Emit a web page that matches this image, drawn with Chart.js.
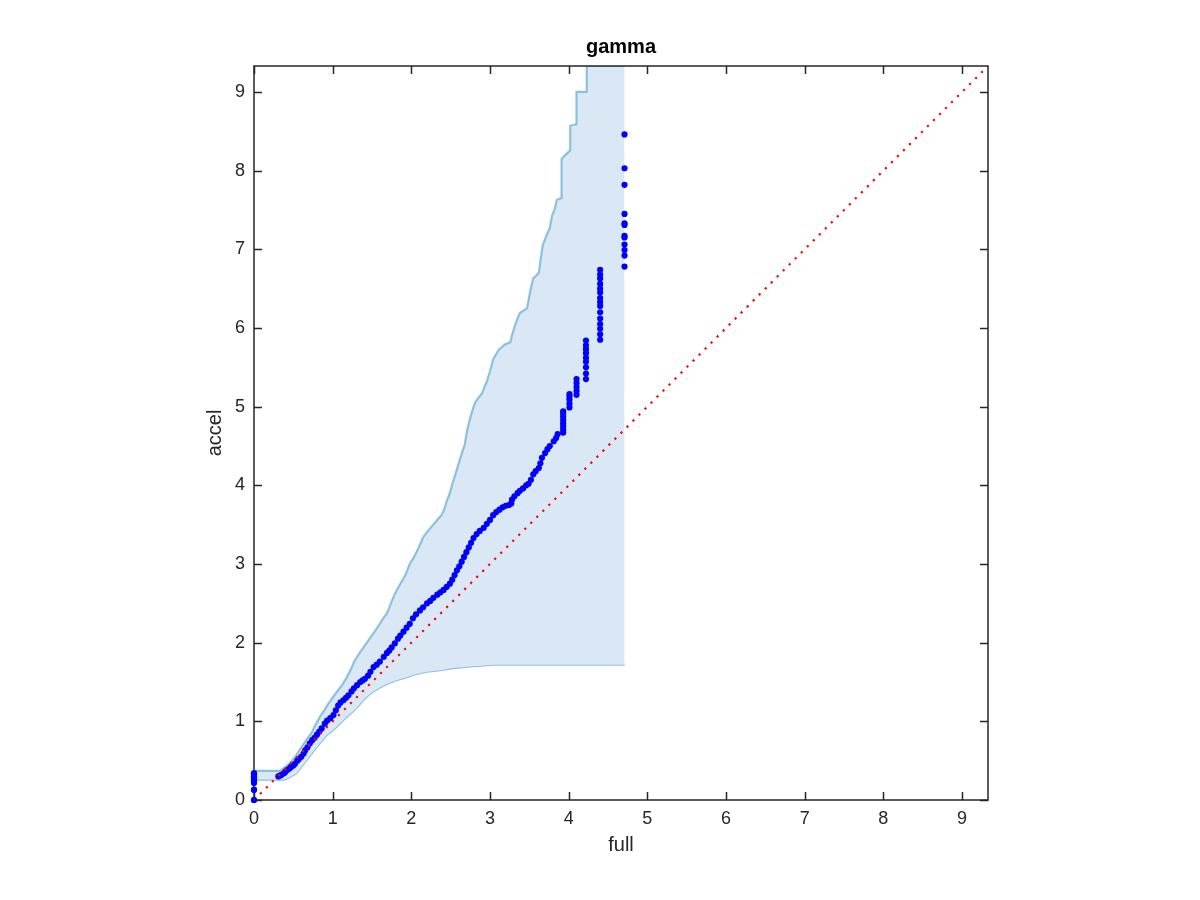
<!DOCTYPE html>
<html>
<head>
<meta charset="utf-8">
<script src="https://cdn.jsdelivr.net/npm/chart.js@4.4.1/dist/chart.umd.min.js"></script>
<style>
html,body{margin:0;padding:0;background:#fff;}
canvas{display:block;}
</style>
</head>
<body>
<canvas id="c" width="1200" height="900"></canvas>
<script>
// ---- data ----
const axisMin = 0;
const axisMax = 9.33;
const xTicks = [0,1,2,3,4,5,6,7,8,9];
const yTicks = [0,1,2,3,4,5,6,7,8,9];

// upper envelope of the confidence band
const bandUpperX = [0,0.33,0.40,0.46,0.53,0.61,0.67,0.73,0.78,0.84,0.90,0.95,1.00,1.05,1.12,1.18,1.23,1.28,1.35,1.43,1.49,1.54,1.60,1.65,1.69,1.74,1.79,1.85,1.92,1.98,2.03,2.09,2.15,2.22,2.28,2.33,2.39,2.42,2.45,2.49,2.52,2.56,2.60,2.64,2.68,2.71,2.75,2.78,2.81,2.86,2.90,2.93,2.96,3.00,3.04,3.08,3.11,3.19,3.26,3.28,3.32,3.35,3.38,3.47,3.49,3.51,3.55,3.62,3.64,3.67,3.72,3.76,3.79,3.82,3.85,3.91,3.91,3.96,4.02,4.02,4.10,4.10,4.23,4.23,4.71];
const bandUpperY = [0.37,0.37,0.42,0.47,0.56,0.68,0.77,0.85,0.95,1.06,1.15,1.23,1.30,1.37,1.46,1.56,1.66,1.77,1.88,1.99,2.08,2.15,2.24,2.32,2.37,2.50,2.62,2.73,2.85,3.00,3.08,3.20,3.34,3.43,3.50,3.56,3.63,3.70,3.80,3.90,4.01,4.14,4.27,4.40,4.52,4.70,4.86,4.96,5.05,5.12,5.17,5.25,5.32,5.45,5.60,5.67,5.72,5.79,5.82,5.91,6.04,6.12,6.19,6.25,6.35,6.46,6.63,6.70,6.84,7.05,7.18,7.27,7.43,7.50,7.63,7.65,8.15,8.20,8.26,8.57,8.59,9.00,9.00,9.33,9.33];

// lower envelope of the confidence band
const bandLowerX = [0,0.39,0.45,0.54,0.60,0.67,0.74,0.80,0.86,0.92,0.98,1.05,1.12,1.18,1.25,1.31,1.37,1.43,1.50,1.60,1.70,1.80,1.94,2.05,2.20,2.37,2.55,2.79,3.04,4.71];
const bandLowerY = [0.26,0.26,0.29,0.34,0.42,0.51,0.60,0.68,0.75,0.82,0.87,0.93,1.00,1.06,1.12,1.18,1.25,1.31,1.37,1.43,1.48,1.52,1.56,1.60,1.63,1.65,1.68,1.70,1.72,1.72];

// quantile-quantile points (full vs accel)
const qqX = [0,0,0,0,0,0,0,0,0,
0.31,0.33,0.35,0.38,0.40,0.42,0.45,0.47,0.50,0.52,0.55,0.57,0.60,0.63,0.65,0.68,0.71,0.74,0.77,0.80,0.83,0.86,0.90,0.93,0.97,1.01,1.04,1.07,1.10,1.14,1.17,1.20,1.24,1.27,1.31,1.35,1.38,1.41,1.45,1.48,1.52,1.56,1.60,1.65,1.69,1.72,1.75,1.79,1.83,1.86,1.90,1.94,1.98,2.02,2.06,2.11,2.15,2.20,2.24,2.28,2.33,2.37,2.41,2.45,2.49,2.52,2.55,2.58,2.61,2.64,2.67,2.70,2.73,2.76,2.79,2.83,2.87,2.92,2.96,3.00,3.04,3.08,3.12,3.16,3.20,3.24,3.27,3.28,3.31,3.35,3.38,3.42,3.46,3.49,3.52,3.55,3.58,3.62,3.64,3.66,3.70,3.73,3.76,3.81,3.84,3.86,
3.93,3.93,3.93,3.93,3.93,3.93,3.93,3.93,
4.01,4.01,4.01,4.01,4.01,
4.10,4.10,4.10,4.10,4.10,
4.22,4.22,4.22,4.22,4.22,4.22,4.22,4.22,4.22,
4.40,4.40,4.40,4.40,4.40,4.40,4.40,4.40,4.40,4.40,4.40,4.40,4.40,4.40,4.40,
4.71,4.71,4.71,4.71,4.71,4.71,4.71,4.71,4.71,4.71,4.71,4.71];
const qqY = [0,0.13,0.22,0.24,0.26,0.28,0.30,0.32,0.34,
0.30,0.31,0.32,0.34,0.36,0.38,0.40,0.42,0.44,0.46,0.50,0.52,0.55,0.59,0.63,0.67,0.72,0.76,0.79,0.83,0.87,0.91,0.97,1.01,1.04,1.08,1.14,1.20,1.24,1.27,1.30,1.33,1.38,1.42,1.46,1.50,1.52,1.54,1.58,1.63,1.69,1.72,1.76,1.82,1.87,1.90,1.94,1.99,2.05,2.09,2.14,2.19,2.24,2.31,2.36,2.41,2.45,2.50,2.53,2.57,2.61,2.64,2.67,2.71,2.75,2.80,2.86,2.92,2.97,3.03,3.09,3.15,3.21,3.27,3.33,3.38,3.42,3.46,3.51,3.56,3.62,3.66,3.69,3.72,3.74,3.75,3.77,3.82,3.86,3.90,3.93,3.96,4.00,4.02,4.07,4.14,4.18,4.22,4.28,4.35,4.41,4.46,4.50,4.56,4.60,4.65,
4.67,4.71,4.75,4.79,4.83,4.87,4.91,4.94,
4.99,5.04,5.09,5.13,5.16,
5.15,5.20,5.25,5.30,5.35,
5.35,5.42,5.50,5.57,5.62,5.68,5.73,5.78,5.84,
5.85,5.92,5.99,6.05,6.12,6.20,6.28,6.33,6.38,6.45,6.50,6.56,6.63,6.68,6.74,
6.78,6.92,6.99,7.06,7.15,7.17,7.31,7.33,7.45,7.82,8.03,8.46];

// reference diagonal y = x
const diagX = [0, 9.33];
const diagY = [0, 9.33];

// ---- build chart ----
const pts = (xs, ys) => xs.map((x, i) => ({x: x, y: ys[i]}));
const FONT = "'Liberation Sans', Arial, Helvetica, sans-serif";
const AXIS_COLOR = '#262626';

const boxTicks = {
  id: 'boxTicks',
  afterDatasetsDraw(chart) {
    const {ctx, chartArea: a, scales: {x, y}} = chart;
    const L = 8;
    ctx.save();
    ctx.strokeStyle = AXIS_COLOR;
    ctx.lineWidth = 1.5;
    ctx.beginPath();
    xTicks.forEach(v => {
      const px = Math.round(x.getPixelForValue(v)) + 0.5;
      ctx.moveTo(px, a.bottom); ctx.lineTo(px, a.bottom - L);
      ctx.moveTo(px, a.top); ctx.lineTo(px, a.top + L);
    });
    yTicks.forEach(v => {
      const py = Math.round(y.getPixelForValue(v)) + 0.5;
      ctx.moveTo(a.left, py); ctx.lineTo(a.left + L, py);
      ctx.moveTo(a.right, py); ctx.lineTo(a.right - L, py);
    });
    ctx.stroke();
    ctx.strokeRect(a.left, a.top, a.right - a.left, a.bottom - a.top);
    ctx.restore();
  }
};

// draw the QQ points above the axis frame, as in the reference
const qqOnTop = {
  id: 'qqOnTop',
  afterDraw(chart) {
    const meta = chart.getDatasetMeta(1);
    const ctx = chart.ctx;
    ctx.save();
    meta.data.forEach(p => { if (p.x <= chart.chartArea.left + 4) p.draw(ctx); });
    ctx.restore();
  }
};

new Chart(document.getElementById('c'), {
  type: 'scatter',
  data: {
    datasets: [
      {
        type: 'line',
        label: 'diag',
        data: pts(diagX, diagY),
        borderColor: '#ff0000',
        borderWidth: 2.2,
        borderDash: [2.2, 6.3],
        pointRadius: 0,
        fill: false,
        order: 0
      },
      {
        label: 'qq',
        data: pts(qqX, qqY),
        backgroundColor: '#0000ff',
        borderWidth: 0,
        pointRadius: 3.1,
        pointHoverRadius: 3.1,
        clip: false,
        order: 1
      },
      {
        type: 'line',
        label: 'upper',
        data: pts(bandUpperX, bandUpperY),
        borderColor: 'rgb(140,192,227)',
        backgroundColor: 'rgb(217,232,244)',
        borderWidth: 2.2,
        pointRadius: 0,
        tension: 0,
        fill: '+1',
        order: 2
      },
      {
        type: 'line',
        label: 'lower',
        data: pts(bandLowerX, bandLowerY),
        borderColor: 'rgb(140,192,227)',
        borderWidth: 2.2,
        pointRadius: 0,
        tension: 0,
        fill: false,
        order: 3
      }
    ]
  },
  options: {
    responsive: false,
    animation: false,
    devicePixelRatio: 1,
    layout: { padding: { left: 0, right: 212, top: 0, bottom: 0 } },
    plugins: {
      legend: { display: false },
      tooltip: { enabled: false },
      title: {
        display: true,
        fullSize: false,
        text: 'gamma',
        color: '#000',
        font: { family: FONT, size: 20, weight: 'bold', lineHeight: 1.2 },
        padding: { top: 35, bottom: 7 }
      }
    },
    scales: {
      x: {
        type: 'linear',
        min: axisMin, max: axisMax,
        grid: { display: false, drawTicks: false },
        border: { display: false },
        afterBuildTicks: s => { s.ticks = xTicks.map(v => ({value: v})); },
        afterFit: s => { s.height = 100; },
        ticks: {
          color: AXIS_COLOR,
          font: { family: FONT, size: 18 },
          padding: 8,
          maxRotation: 0,
          autoSkip: false,
          callback: v => String(v)
        },
        title: {
          display: true, text: 'full', color: AXIS_COLOR,
          font: { family: FONT, size: 20, lineHeight: 1.2 },
          padding: { top: 0, bottom: 43 }
        }
      },
      y: {
        type: 'linear',
        min: axisMin, max: axisMax,
        grid: { display: false, drawTicks: false },
        border: { display: false },
        afterBuildTicks: s => { s.ticks = yTicks.map(v => ({value: v})); },
        afterFit: s => { s.width = 254; },
        ticks: {
          color: AXIS_COLOR,
          font: { family: FONT, size: 18 },
          padding: 9,
          autoSkip: false,
          callback: v => String(v)
        },
        title: {
          display: true, text: 'accel', color: AXIS_COLOR,
          font: { family: FONT, size: 20, lineHeight: 1.2 },
          padding: { top: 203, bottom: 0 }
        }
      }
    }
  },
  plugins: [boxTicks, qqOnTop]
});
</script>
</body>
</html>
